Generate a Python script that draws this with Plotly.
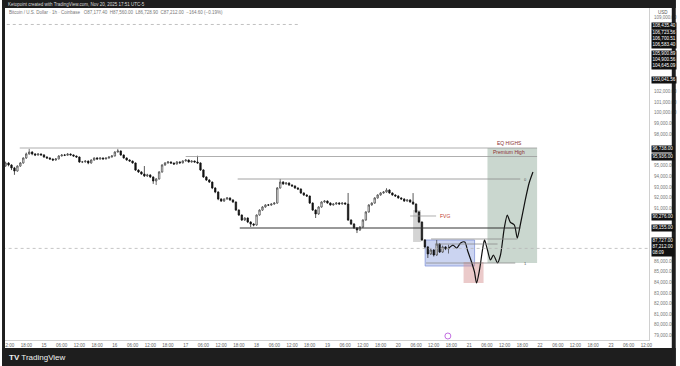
import plotly.graph_objects as go
import pandas as pd

# ---------------- data ----------------
start_time = "2025-11-14 11:00"
first_open = 95000
closes = [95267, 95080, 94800, 94510, 94980, 95270, 95740, 96120, 96300, 96120,
          96020, 96110, 96030, 95830, 95740, 95640, 95550, 95650, 95930, 96020,
          96000, 96110, 96030, 95920, 95830, 95360, 95370, 95450, 95270, 95550,
          95740, 95640, 95740, 95650, 95730, 95830, 95930, 96300, 96400, 96020,
          95740, 95550, 95450, 95270, 94600, 94420, 94230, 94040, 94140, 93950,
          93570, 93760, 94420, 95080, 95270, 95360, 95260, 95170, 95370, 95280,
          95460, 95550, 95360, 95450, 95360, 95270, 94610, 93950, 93660, 93470,
          92910, 92530, 91870, 91680, 91870, 91970, 91780, 91590, 90830, 90360,
          89890, 90080, 89700, 89510, 89420, 90360, 90830, 91120, 91310, 91300,
          91400, 91490, 92910, 93470, 93290, 93380, 93190, 93100, 92910, 92810,
          92440, 92250, 92150, 91490, 90830, 90460, 91120, 91590, 91680, 91490,
          91310, 91400, 91500, 91400, 91490, 91400, 89890, 89510, 89140, 88950,
          89230, 89890, 90650, 91310, 91490, 91970, 92250, 92440, 92530, 92720,
          92440, 92250, 92150, 91970, 91870, 91680, 91780, 91590, 91400, 90650,
          89700, 88010, 87350, 86690, 87060, 86590, 87630, 86870, 87350, 87177,
          87212]
highs = [95400, 95350, 95150, 94900, 95050, 95350, 95800, 96250, 96600, 96380,
         96200, 96200, 96180, 96100, 95900, 95800, 95700, 95730, 96000, 96100,
         96120, 96200, 96170, 96080, 95980, 95880, 95460, 95520, 95500, 95620,
         95800, 95820, 95800, 95790, 95800, 95900, 96000, 96380, 96600, 96450,
         96080, 95800, 95620, 95500, 95320, 94680, 94500, 94980, 94250, 94200,
         94000, 93850, 94500, 95150, 95350, 95450, 95420, 95320, 95450, 95420,
         95520, 95620, 95600, 95520, 95500, 95950, 95330, 94680, 94020, 93750,
         93520, 92980, 92600, 91950, 91940, 92050, 92020, 91850, 91640, 90900,
         90420, 90150, 90140, 89780, 89600, 90420, 90900, 91200, 91380, 91400,
         91460, 91560, 93000, 93760, 93560, 93470, 93440, 93260, 93160, 92980,
         92880, 92500, 92320, 92200, 91560, 90900, 91200, 91660, 91760, 91740,
         91560, 91470, 91560, 91570, 91560, 91560, 92440, 89960, 89600, 89230,
         89320, 89960, 90720, 91380, 91560, 92040, 92320, 92520, 92620, 92900,
         92790, 92500, 92320, 92220, 92040, 91940, 91850, 91850, 92430, 91460,
         90720, 89760, 88100, 87430, 87200, 87150, 88010, 87700, 87480, 87420,
         87560]
lows = [94900, 94950, 94600, 94150, 94450, 94900, 95200, 95650, 96050, 96000,
        95920, 95950, 95950, 95760, 95650, 95560, 95450, 95480, 95600, 95880,
        95920, 95950, 95960, 95850, 95760, 95280, 95260, 95300, 95150, 95200,
        95480, 95580, 95580, 95590, 95600, 95680, 95780, 95880, 96250, 95950,
        95680, 95480, 95380, 95200, 94520, 94330, 94150, 93950, 93950, 93850,
        93300, 93190, 93700, 94350, 95000, 95200, 95180, 95080, 95120, 95200,
        95220, 95400, 95300, 95300, 95300, 95200, 94520, 93860, 93570, 93380,
        92800, 92420, 91760, 91590, 91600, 91800, 91700, 91500, 90740, 90270,
        89800, 89800, 89600, 89230, 89300, 89350, 90300, 90750, 91050, 91220,
        91230, 91330, 91420, 92850, 93200, 93210, 93100, 93010, 92830, 92720,
        92350, 92160, 92060, 91400, 90740, 90080, 90380, 91050, 91520, 91420,
        91240, 91240, 91330, 91330, 91330, 91330, 89800, 89420, 89050, 88660,
        88860, 89150, 89820, 90580, 91240, 91420, 91900, 92180, 92370, 92460,
        92370, 92180, 92080, 91900, 91800, 91600, 91610, 91520, 91320, 90560,
        89600, 87900, 87200, 86310, 86600, 86450, 86520, 86780, 86800, 87050,
        86729]
opens = [first_open] + closes[:-1]
times = pd.date_range(start_time, periods=len(closes), freq="h")

# hand-drawn projection path
proj_times = ["2025-11-20 17:00", "2025-11-20 18:30", "2025-11-20 19:48", "2025-11-20 21:06",
              "2025-11-20 22:30", "2025-11-20 23:30", "2025-11-21 00:48", "2025-11-21 01:48",
              "2025-11-21 02:30", "2025-11-21 03:30", "2025-11-21 04:30", "2025-11-21 05:12",
              "2025-11-21 06:12", "2025-11-21 07:12", "2025-11-21 08:12", "2025-11-21 09:36",
              "2025-11-21 10:36", "2025-11-21 11:54", "2025-11-21 12:54", "2025-11-21 13:54",
              "2025-11-21 15:18", "2025-11-21 16:18", "2025-11-21 17:18", "2025-11-21 19:00",
              "2025-11-21 20:18", "2025-11-21 21:36"]
proj_prices = [87212, 87530, 87250, 87720, 87820, 86970, 85930, 84990, 83950, 85180,
               87060, 88010, 87060, 86120, 86590, 85840, 86590, 89140, 90360, 89700,
               89420, 88190, 89420, 91780, 93380, 94420]

# price levels
eq_highs = 96681
premium_high = 95880
fib_zero = 93757
range_low = 89137
fvg_level = 90270
level_a = 88100
level_b = 87628
fib_one = 85837
top_dotted = 108330
last_price = 87212

# right-axis black tags: (centre price, lines of text)
axis_tags = [
    (108230, ["108,435.40"]),
    (106920, ["106,723.56", "106,700.51", "106,583.40"]),
    (104950, ["105,900.89", "104,900.56", "104,645.09"]),
    (103090, ["103,041.56"]),
    (96590, ["96,738.00"]),
    (95870, ["95,936.00"]),
    (90170, ["90,276.00"]),
    (89140, ["89,155.00"]),
    (87380, ["87,727.00", "87,212.00", "08:09"]),
]

legend_text = ("Bitcoin / U.S. Dollar · 1h · Coinbase   O87,177.40  H87,560.00  "
               "L86,728.90  C87,212.00  −164.60 (−0.19%)")
header_text = "Ketopoint created with TradingView.com, Nov 20, 2025 17:51 UTC-5"

# ---------------- figure ----------------
FONT = "Liberation Sans"
fig = go.Figure()

fig.add_trace(go.Candlestick(
    x=times, open=opens, high=highs, low=lows, close=closes,
    increasing=dict(line=dict(color="#3a3a3a", width=0.7), fillcolor="#ffffff"),
    decreasing=dict(line=dict(color="#111111", width=0.7), fillcolor="#111111"),
    whiskerwidth=0, showlegend=False, hoverinfo="skip"))

fig.add_trace(go.Scatter(
    x=proj_times, y=proj_prices, mode="lines",
    line=dict(color="#111111", width=1.2, shape="spline", smoothing=0.7),
    showlegend=False, hoverinfo="skip"))

shapes = []


def box(x0, x1, y0, y1, fill, line="rgba(0,0,0,0)"):
    shapes.append(dict(type="rect", xref="x", yref="y", x0=x0, x1=x1, y0=y0, y1=y1,
                       fillcolor=fill, line=dict(color=line, width=0.8), layer="below"))


box("2025-11-21 06:12", "2025-11-21 23:00", fib_one, eq_highs, "rgba(150,175,160,0.5)")
box("2025-11-20 09:05", "2025-11-21 01:50", 85550, 88006, "rgba(140,160,225,0.45)",
    "rgba(110,130,210,0.8)")
box("2025-11-20 22:06", "2025-11-21 04:52", 83950, 85930, "rgba(215,150,150,0.5)")
box("2025-11-20 05:00", "2025-11-20 07:40", 87820, 90830, "rgba(170,170,170,0.5)")


def hline(x0, x1, y, color, width=0.8, dash="solid"):
    shapes.append(dict(type="line", xref="x", yref="y", x0=x0, x1=x1, y0=y, y1=y,
                       line=dict(color=color, width=width, dash=dash)))


hline("2025-11-14 15:48", "2025-11-21 23:00", eq_highs, "#9a9a9a")
hline("2025-11-17 00:00", "2025-11-21 23:00", premium_high, "#9a9a9a")
hline("2025-11-17 17:36", "2025-11-21 17:18", fib_zero, "#8a8a8a")
hline("2025-11-17 18:18", "2025-11-21 17:18", range_low, "#333333", 1)
hline("2025-11-20 11:06", "2025-11-21 16:18", level_a, "#8a8a8a")
hline("2025-11-20 12:24", "2025-11-21 09:36", level_b, "#8a8a8a")
hline("2025-11-20 09:24", "2025-11-21 15:36", fib_one, "#8a8a8a")
hline("2025-11-20 04:00", "2025-11-20 12:48", fvg_level, "#9a9a9a")
hline("2025-11-14 11:24", "2025-11-18 14:24", top_dotted, "#b0b0b0", 0.8, "dot")
hline("2025-11-14 10:00", "2025-11-23 14:00", last_price, "#b8b8b8", 0.8, "dot")


def px_x(p):
    return (p - 3) / 650.0


def px_y(p):
    return (340 - p) / 332.0


dark = "#1e1e1e"
for (x0, x1, y0, y1) in [(0, 680, 0, 8), (0, 680, 348, 366), (0, 3, 0, 366), (676, 680, 0, 366)]:
    shapes.append(dict(type="rect", xref="paper", yref="paper",
                       x0=px_x(x0), x1=px_x(x1), y0=px_y(y1), y1=px_y(y0),
                       fillcolor=dark, line=dict(width=0), layer="above"))
shapes.append(dict(type="circle", xref="paper", yref="paper",
                   x0=px_x(447), x1=px_x(453), y0=px_y(339), y1=px_y(333),
                   line=dict(color="#b24ad8", width=0.8), fillcolor="rgba(0,0,0,0)"))

ann = []


def label(x, y, text, color="#555555", size=5, xanchor="left", yanchor="middle"):
    ann.append(dict(x=x, y=y, xref="x", yref="y", text=text, showarrow=False,
                    font=dict(family=FONT, size=size, color=color),
                    xanchor=xanchor, yanchor=yanchor))


label("2025-11-21 13:36", eq_highs, "EQ HIGHS", "#8b3030", 5, "center", "bottom")
label("2025-11-21 13:36", premium_high, "Premium High", "#8b3030", 5, "center", "bottom")
label("2025-11-21 18:00", fib_zero, "0", "#555555", 4)
label("2025-11-21 18:00", fib_one, "1", "#555555", 4)
label("2025-11-20 13:24", fvg_level, "FVG", "#c0392b", 5)

PX_PER_USD = 332.0 / (109883 - 78576)
hidden = []
for price, lines in axis_tags:
    ann.append(dict(x=px_x(655), y=price, xref="paper", yref="y", text="<br>".join(lines),
                    showarrow=False, xanchor="left", yanchor="middle", align="left",
                    bgcolor="#111111", borderpad=0.4,
                    font=dict(family=FONT, size=4.6, color="#ffffff")))
    half = (len(lines) * 5.3 / 2 + 3.5) / PX_PER_USD
    hidden.append((price - half, price + half))

ann.append(dict(x=px_x(660), y=px_y(13), xref="paper", yref="paper", text="USD",
                showarrow=False, xanchor="left", yanchor="middle",
                font=dict(family=FONT, size=4.5, color="#555555")))
ann.append(dict(x=px_x(5), y=px_y(13), xref="paper", yref="paper", text=legend_text,
                showarrow=False, xanchor="left", yanchor="middle",
                font=dict(family=FONT, size=4.5, color="#777777")))
ann.append(dict(x=px_x(4), y=px_y(4), xref="paper", yref="paper", text=header_text,
                showarrow=False, xanchor="left", yanchor="middle",
                font=dict(family=FONT, size=4.5, color="#dddddd")))
ann.append(dict(x=px_x(5), y=px_y(357), xref="paper", yref="paper",
                text="<b>TV</b> TradingView", showarrow=False, xanchor="left",
                yanchor="middle", font=dict(family=FONT, size=8, color="#f0f0f0")))

# axis ticks (TradingView hides grid labels that collide with price tags)
xt = pd.date_range("2025-11-14 12:00", "2025-11-23 12:00", freq="6h")
x_ticktext = [str(t.day) if t.hour == 0 else t.strftime("%H:%M") for t in xt]
y_tickvals = [v for v in range(79000, 110000, 1000)
              if not any(lo <= v <= hi for lo, hi in hidden)]
y_ticktext = [f"{v:,.2f}" for v in y_tickvals]

fig.update_layout(
    width=680, height=366,
    margin=dict(l=3, r=27, t=8, b=26, pad=0),
    paper_bgcolor="#ffffff", plot_bgcolor="#ffffff",
    shapes=shapes, annotations=ann,
    xaxis=dict(range=["2025-11-14 10:48", "2025-11-23 12:54"], rangeslider=dict(visible=False),
               showgrid=False, zeroline=False, showline=True, linecolor="#d0d0d0", linewidth=1,
               tickvals=list(xt), ticktext=x_ticktext, ticks="",
               tickfont=dict(family=FONT, size=4.5, color="#666666"), ticklabelstandoff=1),
    yaxis=dict(range=[78576, 109883], side="right", showgrid=False, zeroline=False,
               showline=True, linecolor="#d0d0d0", linewidth=1,
               tickvals=y_tickvals, ticktext=y_ticktext, ticks="",
               tickfont=dict(family=FONT, size=4.5, color="#777777"), ticklabelstandoff=3),
    hovermode=False,
)

fig.write_html("out.html")
